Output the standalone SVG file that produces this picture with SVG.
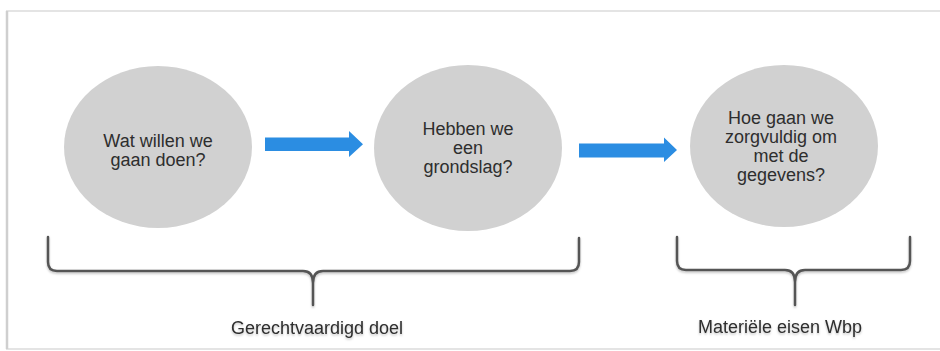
<svg xmlns="http://www.w3.org/2000/svg" width="940" height="351" viewBox="0 0 940 351">
  <defs>
    <filter id="sh" x="-5%" y="-20%" width="110%" height="160%">
      <feDropShadow dx="0" dy="1.5" stdDeviation="1.2" flood-color="#000" flood-opacity="0.25"/>
    </filter>
    <style>
      .node { fill: #d1d1d1; }
      .t { font-family: "Liberation Sans", Arial, sans-serif; font-size: 18px; fill: #2e2e2e; text-anchor: middle; }
      .arrow { fill: #2b8de2; }
      .brace { fill: none; stroke: #555; stroke-width: 2.5; stroke-linecap: round; stroke-linejoin: round; }
    </style>
  </defs>
  <rect x="0" y="0" width="940" height="351" fill="#ffffff"/>
  <rect x="7" y="11" width="940" height="338" fill="#ffffff" stroke="#e4e4e4" stroke-width="2"/>
  <line x1="7" y1="11" x2="7" y2="349" stroke="#cfcfcf" stroke-width="2.5"/>

  <g id="node-wat">
    <ellipse class="node" cx="158" cy="147" rx="94" ry="81"/>
    <text class="t" x="158" y="147">Wat willen we</text>
    <text class="t" x="158" y="166">gaan doen?</text>
  </g>
  <g id="node-grondslag">
    <ellipse class="node" cx="468" cy="148" rx="94" ry="83"/>
    <text class="t" x="468" y="135">Hebben we</text>
    <text class="t" x="468" y="154">een</text>
    <text class="t" x="468" y="173">grondslag?</text>
  </g>
  <g id="node-zorgvuldig">
    <ellipse class="node" cx="784" cy="146" rx="94" ry="81"/>
    <text class="t" x="781" y="124">Hoe gaan we</text>
    <text class="t" x="781" y="143">zorgvuldig om</text>
    <text class="t" x="781" y="162">met de</text>
    <text class="t" x="781" y="181">gegevens?</text>
  </g>

  <g id="connectors">
    <path class="arrow" d="M265,137.5 H349 V131 L363,144.3 L349,157 V151 H265 Z"/>
    <path class="arrow" d="M579,143.5 H664 V137.5 L677,150 L664,162 V157.5 H579 Z"/>
  </g>

  <g id="brace-doel" filter="url(#sh)">
    <path class="brace" d="M48,237 V262 Q48,271 57,271 H303 Q313,271 313,283 V305 M313,283 Q313,271 323,271 H570 Q579,271 579,262 V238"/>
    <text class="t" x="317" y="334">Gerechtvaardigd doel</text>
  </g>
  <g id="brace-wbp" filter="url(#sh)">
    <path class="brace" d="M677,237 V261 Q677,270 686,270 H785 Q795,270 795,282 V305 M795,282 Q795,270 805,270 H901 Q910,270 910,261 V237"/>
    <text class="t" x="780" y="333">Materiële eisen Wbp</text>
  </g>
</svg>
